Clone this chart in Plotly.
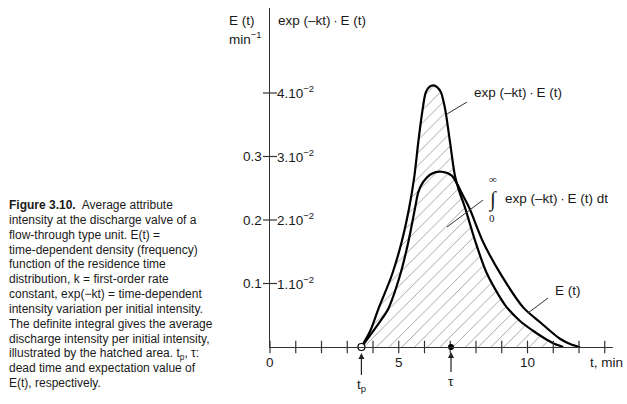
import plotly.graph_objects as go

# ---- data ----
# exp(-kt)*E(t), drawn on the 10x scale (right labels)
t_F = [3.55, 3.9, 4.21, 4.73, 5.11, 5.40, 5.61, 5.76, 5.93, 6.05, 6.2, 6.34, 6.5, 6.64,
       6.80, 6.99, 7.18, 7.35, 7.57, 7.96, 8.41, 9.13, 9.71, 10.2, 10.61, 11.0, 11.39]
v_F = [0.0, 0.026, 0.060, 0.113, 0.165, 0.218, 0.270, 0.323, 0.375, 0.401, 0.410, 0.412,
       0.409, 0.401, 0.375, 0.323, 0.270, 0.245, 0.220, 0.168, 0.117, 0.066, 0.041, 0.026,
       0.015, 0.006, 0.0]
# E(t)
t_E = [3.55, 3.88, 4.27, 4.59, 5.05, 5.37, 5.63, 5.76, 5.95, 6.28, 6.67, 7.06, 7.25, 7.5,
       7.75, 8.28, 9.0, 9.84, 10.49, 11.26, 11.7, 12.04]
v_E = [0.0, 0.018, 0.040, 0.060, 0.113, 0.165, 0.218, 0.244, 0.260, 0.273, 0.276, 0.270,
       0.258, 0.238, 0.218, 0.165, 0.112, 0.062, 0.039, 0.013, 0.004, 0.0]

x_minor_ticks = list(range(0, 14))
x_tick_vals = [0, 5, 10]
x_tick_text = ["0", "5", "10"]
y_tick_vals = [0.1, 0.2, 0.3, 0.4]
y_left_text = ["0.1", "0.2", "0.3", ""]
y_right_text = ["1.10<sup>−2</sup>", "2.10<sup>−2</sup>", "3.10<sup>−2</sup>", "4.10<sup>−2</sup>"]
t_p = 3.55
tau = 7.03

caption = [
    "<b>Figure 3.10.</b>  Average attribute",
    "intensity at the discharge valve of a",
    "flow-through type unit. E(t) =",
    "time-dependent density (frequency)",
    "function of the residence time",
    "distribution, k = first-order rate",
    "constant, exp(−kt) = time-dependent",
    "intensity variation per initial intensity.",
    "The definite integral gives the average",
    "discharge intensity per initial intensity,",
    "illustrated by the hatched area. t<sub>p</sub>, τ:",
    "dead time and expectation value of",
    "E(t), respectively.",
]

# ---- layout geometry ----
W, H = 627, 404
ML, MR, MT, MB = 270, 14, 8, 57
PXT = 25.75      # px per minute
PXV = 635.0      # px per unit of left scale
plot_w = W - ML - MR
plot_h = H - MT - MB
x0_px, y0_px = ML, H - MB
xmax = plot_w / PXT
ymax = plot_h / PXV


def t_at(px):
    return (px - x0_px) / PXT


def v_at(py):
    return (y0_px - py) / PXV


def px_x(px):
    return (px - ML) / plot_w


def px_y(py):
    return (H - MB - py) / plot_h


FONT = "Liberation Sans, Arial, sans-serif"
SERIF = "Liberation Serif, Times New Roman, serif"
INK = "#1a1a1a"

fig = go.Figure()

# hatched area under exp(-kt)E(t)
fig.add_trace(go.Scatter(
    x=t_F, y=v_F, mode="lines", line=dict(width=0, shape="spline", smoothing=0.8),
    fill="tozeroy", fillcolor="rgba(0,0,0,0)",
    fillpattern=dict(shape="/", fgcolor="#3a3a3a", bgcolor="white", size=9, solidity=0.1),
    hoverinfo="skip", showlegend=False))

# curves
fig.add_trace(go.Scatter(x=t_E, y=v_E, mode="lines",
                         line=dict(color="black", width=2.2, shape="spline", smoothing=0.8),
                         showlegend=False))
fig.add_trace(go.Scatter(x=t_F, y=v_F, mode="lines",
                         line=dict(color="black", width=2.2, shape="spline", smoothing=0.8),
                         showlegend=False))

# crossing tick marks on axes
fig.add_trace(go.Scatter(x=x_minor_ticks, y=[0] * len(x_minor_ticks), mode="markers",
                         marker=dict(symbol="line-ns", size=9,
                                     line=dict(color="#333333", width=1.2)),
                         cliponaxis=False, showlegend=False, hoverinfo="skip"))
fig.add_trace(go.Scatter(x=[0] * len(y_tick_vals), y=y_tick_vals, mode="markers",
                         marker=dict(symbol="line-ew", size=10,
                                     line=dict(color="#333333", width=1.2)),
                         cliponaxis=False, showlegend=False, hoverinfo="skip"))

# t_p (open) and tau (filled) markers
fig.add_trace(go.Scatter(x=[t_p], y=[0], mode="markers",
                         marker=dict(symbol="circle", size=7, color="white",
                                     line=dict(color="black", width=1.2)),
                         cliponaxis=False, showlegend=False))
fig.add_trace(go.Scatter(x=[tau], y=[0], mode="markers",
                         marker=dict(symbol="circle", size=6, color="black"),
                         cliponaxis=False, showlegend=False))

ann = []
tick_font = dict(family=FONT, size=13.5, color=INK)

# y tick labels (both scales)
for v, lt, rt in zip(y_tick_vals, y_left_text, y_right_text):
    if lt:
        ann.append(dict(x=0, y=v, text=lt, showarrow=False, xanchor="right", xshift=-6,
                        font=tick_font))
    ann.append(dict(x=0, y=v, text=rt, showarrow=False, xanchor="left", xshift=5,
                    yshift=1, font=tick_font))

# x tick labels
for xv, xt in zip(x_tick_vals, x_tick_text):
    ann.append(dict(x=xv, y=0, text=xt, showarrow=False, yanchor="middle", yshift=-15,
                    font=tick_font))
ann.append(dict(x=t_at(588), y=0, text="t, min", showarrow=False, xanchor="left",
                yanchor="middle", yshift=-15, font=tick_font))

# axis titles (paper coordinates, outside the data range)
ann.append(dict(x=px_x(227), y=px_y(21), xref="paper", yref="paper", text="E (t)",
                showarrow=False, xanchor="left", yanchor="middle", font=tick_font))
ann.append(dict(x=px_x(227), y=px_y(38), xref="paper", yref="paper",
                text="min<sup>−1</sup>", showarrow=False, xanchor="left", yanchor="middle",
                font=tick_font))
ann.append(dict(x=px_x(276), y=px_y(21), xref="paper", yref="paper",
                text="exp (–kt)\u2009·\u2009E (t)", showarrow=False, xanchor="left",
                yanchor="middle", font=tick_font))

# t_p and tau arrows
ann.append(dict(x=t_p, y=0, ax=0, ay=38, text="t<sub>p</sub>", showarrow=True,
                arrowhead=2, arrowsize=1, arrowwidth=1.2, arrowcolor="#222222",
                standoff=6, font=tick_font))
ann.append(dict(x=tau, y=0, ax=0, ay=34, text="τ", showarrow=True,
                arrowhead=2, arrowsize=1, arrowwidth=1.2, arrowcolor="#222222",
                standoff=5, font=tick_font))

# curve labels
ann.append(dict(x=t_at(472), y=v_at(92), text="exp (–kt)\u2009·\u2009E (t)", showarrow=False,
                xanchor="left", font=tick_font))
ann.append(dict(x=t_at(503), y=v_at(198), text="exp (–kt)\u2009·\u2009E (t) dt",
                showarrow=False, xanchor="left", font=tick_font))
ann.append(dict(x=t_at(492), y=v_at(199), text="∫", showarrow=False,
                font=dict(family=SERIF, size=21, color=INK)))
ann.append(dict(x=t_at(493), y=v_at(179), text="∞", showarrow=False,
                font=dict(family=SERIF, size=11, color=INK)))
ann.append(dict(x=t_at(492), y=v_at(218), text="0", showarrow=False,
                font=dict(family=SERIF, size=11, color=INK)))
ann.append(dict(x=t_at(553), y=v_at(290), text="E (t)", showarrow=False, xanchor="left",
                font=tick_font))

# caption, one line per annotation
for i, line in enumerate(caption):
    ann.append(dict(x=px_x(7), y=px_y(205 + 14.85 * i), xref="paper", yref="paper",
                    text=line, showarrow=False, xanchor="left", yanchor="middle",
                    font=dict(family=FONT, size=12, color=INK)))

# leader lines from labels to curves
leaders = [((447, 114), (467, 102)), ((447, 227), (483, 200)), ((528, 313), (548, 298))]
shapes = [dict(type="line", xref="x", yref="y", x0=t_at(a[0]), y0=v_at(a[1]),
               x1=t_at(b[0]), y1=v_at(b[1]), line=dict(color="#333333", width=1))
          for a, b in leaders]

fig.update_layout(
    width=W, height=H, autosize=False,
    margin=dict(l=ML, r=MR, t=MT, b=MB, pad=0),
    paper_bgcolor="white", plot_bgcolor="white",
    xaxis=dict(range=[0, xmax], showgrid=False, zeroline=False, showticklabels=False,
               ticks="", showline=True, linecolor="#333333", linewidth=1.3),
    yaxis=dict(range=[0, ymax], showgrid=False, zeroline=False, showticklabels=False,
               ticks="", showline=True, linecolor="#333333", linewidth=1.3),
    annotations=ann,
    shapes=shapes,
    showlegend=False,
)

fig.write_html("out.html")
